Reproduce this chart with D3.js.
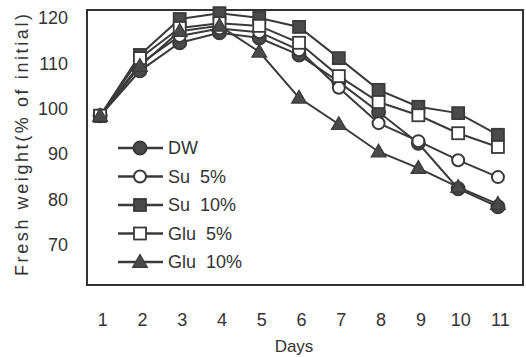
<!DOCTYPE html>
<html>
<head>
<meta charset="utf-8">
<script src="https://cdn.jsdelivr.net/npm/d3@7"></script>
<style>
  body { margin: 0; background: #fff; }
  svg text { font-family: "Liberation Sans", Arial, sans-serif; fill: #333; }
</style>
</head>
<body>
<svg id="chart" width="526" height="357"></svg>
<script>
// data
const days = [1, 2, 3, 4, 5, 6, 7, 8, 9, 10, 11];
const dw    = [102, 110.5, 115.8, 117.7, 116.7, 113.5, 108.4, 102.7, 96.8, 88.2, 84.8];
const su5   = [102, 111.8, 117.1, 118.5, 117.8, 114.4, 107.3, 100.6, 97.2, 93.6, 90.4];
const su10  = [102, 113.5, 120.3, 121.4, 120.5, 118.8, 112.9, 106.9, 103.7, 102.5, 98.4];
const glu5  = [102, 112.9, 118.6, 119.5, 119.0, 115.8, 109.5, 104.6, 102.1, 98.7, 96.1];
const glu10 = [102, 111.4, 118.0, 119.0, 114.1, 105.4, 100.4, 95.2, 92.1, 88.5, 85.3];
const seriesNames = ["DW", "Su  5%", "Su  10%", "Glu  5%", "Glu  10%"];
const seriesMarks = ["circleFill", "circleOpen", "squareFill", "squareOpen", "triangle"];
const yTicks = [70, 80, 90, 100, 110, 120];

const series = [dw, su5, su10, glu5, glu10].map((vals, i) => ({
    name: seriesNames[i],
    mark: seriesMarks[i],
    points: days.map((d, j) => ({day: d, value: vals[j]}))
}));

var svg = d3.select("#chart");
const frame = {left: 87, right: 523, top: 10, bottom: 285};

// scales
let x = d3.scaleLinear().domain([0.67, 11.63]).range([frame.left, frame.right]);
let y = d3.scaleLinear().domain([70, 122]).range([frame.bottom, frame.top]);
// the printed tick labels sit a bit off the data scale in the original
let yLab = d3.scaleLinear().domain([70, 120]).range([245, 18]);

const lineColor = "#3a3a3a";
const markFill = "#4a4a4a";

// frame
svg.append("rect")
    .attr("x", frame.left).attr("y", frame.top)
    .attr("width", frame.right - frame.left)
    .attr("height", frame.bottom - frame.top)
    .attr("fill", "none")
    .attr("stroke", "#333")
    .attr("stroke-width", 2);

// axes (labels only)
let yAxis = svg.append("g")
    .attr("transform", "translate(68,0)")
    .call(d3.axisLeft(yLab).tickValues(yTicks).tickSize(0).tickPadding(0));
yAxis.select(".domain").remove();
yAxis.selectAll("text").style("font-size", "18px").attr("fill", "#333");

let xAxis = svg.append("g")
    .attr("transform", "translate(2,313)")
    .call(d3.axisBottom(x).tickValues(days).tickSize(0).tickPadding(0));
xAxis.select(".domain").remove();
xAxis.selectAll("text").style("font-size", "18px").attr("fill", "#333");

svg.append("text")
    .attr("x", 294).attr("y", 352)
    .attr("text-anchor", "middle")
    .style("font-size", "17px")
    .text("Days");

svg.append("text")
    .attr("transform", "translate(28,145) rotate(-90)")
    .attr("text-anchor", "middle")
    .attr("textLength", 262)
    .attr("lengthAdjust", "spacing")
    .style("font-size", "18px")
    .text("Fresh weight(% of initial)");

// marker drawing
function drawMark(g, mark, cx, cy) {
    if (mark == "circleFill" || mark == "circleOpen") {
        g.append("circle")
            .attr("cx", cx).attr("cy", cy).attr("r", mark == "circleFill" ? 6.5 : 6)
            .attr("fill", mark == "circleFill" ? markFill : "#fff")
            .attr("stroke", lineColor).attr("stroke-width", 2);
    } else if (mark == "squareFill" || mark == "squareOpen") {
        g.append("rect")
            .attr("x", cx - 6).attr("y", cy - 6).attr("width", 12).attr("height", 12)
            .attr("fill", mark == "squareFill" ? markFill : "#fff")
            .attr("stroke", lineColor).attr("stroke-width", 1.8);
    } else {
        let s = d3.symbol().type(d3.symbolTriangle).size(95);
        g.append("path")
            .attr("d", s())
            .attr("transform", "translate(" + cx + "," + (cy + 1) + ")")
            .attr("fill", markFill)
            .attr("stroke", lineColor).attr("stroke-width", 1.2);
    }
}

let line = d3.line().x(d => x(d.day)).y(d => y(d.value));

var plot = svg.append("g");
series.forEach(s => {
    plot.append("path")
        .attr("d", line(s.points))
        .attr("fill", "none")
        .attr("stroke", lineColor)
        .attr("stroke-width", 2);
});
series.forEach(s => {
    let g = plot.append("g");
    s.points.forEach(p => drawMark(g, s.mark, x(p.day), y(p.value)));
});

// legend
let legY = d3.scaleLinear().domain([0, 4]).range([148, 262]);
series.forEach((s, i) => {
    let g = svg.append("g");
    g.append("line")
        .attr("x1", 118).attr("x2", 163)
        .attr("y1", legY(i)).attr("y2", legY(i))
        .attr("stroke", lineColor).attr("stroke-width", 2.5);
    drawMark(g, s.mark, 140, legY(i));
    g.append("text")
        .attr("x", 168).attr("y", legY(i))
        .attr("dy", "0.36em")
        .style("font-size", "18px")
        .style("white-space", "pre")
        .text(s.name);
});
</script>
</body>
</html>
